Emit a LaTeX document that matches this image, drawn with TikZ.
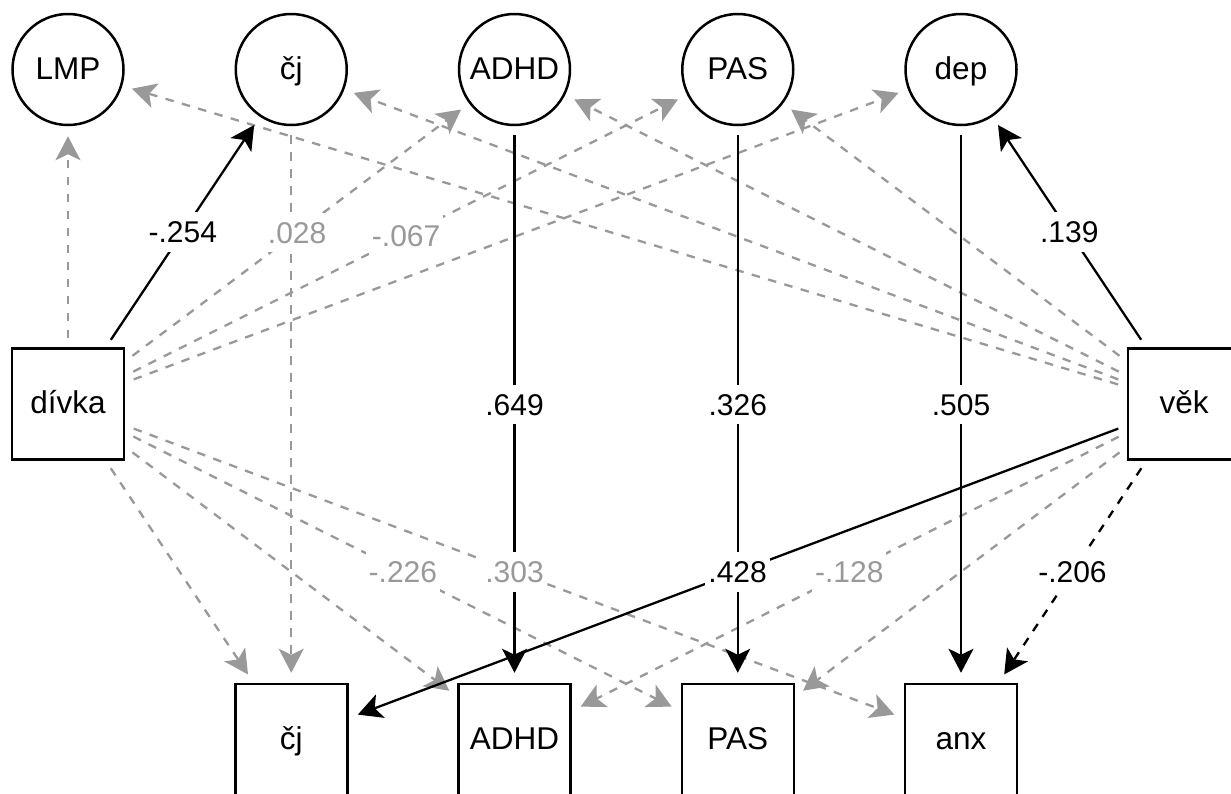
\documentclass[tikz,border=0pt]{standalone}
\usepackage{fontspec}
\setmainfont{Liberation Sans}
\usetikzlibrary{arrows.meta}
\definecolor{lg}{HTML}{999999}
\tikzset{
  nd/.style={draw=black, line width=2.5pt, font=\fontsize{31.5}{36}\selectfont, inner sep=0pt, text=black, text height=25pt, text depth=6pt},
  circ/.style={nd, circle, minimum size=111pt},
  box/.style={nd, rectangle, minimum width=112pt, minimum height=111pt},
  conn/.style={line width=2.3pt, shorten <=9pt, shorten >=10pt, -{Stealth[length=24pt,width=25pt,inset=6pt]}},
  blk/.style={conn, draw=black},
  gry/.style={conn, draw=lg, dash pattern=on 8.5pt off 8.5pt},
  bdash/.style={conn, draw=black, dash pattern=on 8.5pt off 8.5pt},
  lbl/.style={fill=white, inner xsep=3pt, inner ysep=9pt, text height=21.5pt, text depth=0pt, font=\fontsize{30}{36}\selectfont},
  lblk/.style={lbl, text=black},
  lgry/.style={lbl, text=lg},
}
\begin{document}
\begin{tikzpicture}[x=1pt, y=-1pt]
\clip (0,0) rectangle (1231,793);
\fill[white] (0,0) rectangle (1231,793);
% nodes
\node[circ] (LMP)   at (68,69.5)     {LMP};
\node[circ] (cjT)   at (291.25,69.5) {čj};
\node[circ] (adhdT) at (514.5,69.5)  {ADHD};
\node[circ] (pasT)  at (737.75,69.5) {PAS};
\node[circ] (depT)  at (961,69.5)    {dep};
\node[box] (divka)  at (68,404)      {dívka};
\node[box] (vek)    at (1184,404)    {věk};
\node[box] (cjB)    at (291.25,739.5){čj};
\node[box] (adhdB)  at (514.5,739.5) {ADHD};
\node[box] (pasB)   at (737.75,739.5){PAS};
\node[box] (anx)    at (961,739.5)   {anx};
% gray dashed connectors
\draw[gry] (divka) -- (LMP);
\draw[gry] (divka) -- (adhdT);
\draw[gry] (divka) -- (pasT);
\draw[gry] (divka) -- (depT);
\draw[gry] (divka) -- (cjB);
\draw[gry] (divka) -- (adhdB);
\draw[gry] (divka) -- (pasB);
\draw[gry] (divka) -- (anx);
\draw[gry] (cjT) -- (cjB);
\draw[gry] (vek) -- (LMP);
\draw[gry] (vek) -- (cjT);
\draw[gry] (vek) -- (adhdT);
\draw[gry] (vek) -- (pasT);
\draw[gry] (vek) -- (adhdB);
\draw[gry] (vek) -- (pasB);
% black connectors
\draw[blk] (divka) -- (cjT);
\draw[blk] (adhdT) -- (adhdB);
\draw[blk] (pasT) -- (pasB);
\draw[blk] (depT) -- (anx);
\draw[blk] (vek) -- (depT);
\draw[blk] (vek) -- (cjB);
\draw[bdash] (vek) -- (anx);
% labels
\path (divka) -- node[lblk] {-.254} (cjT);
\path (divka) -- node[lgry] {.028} (adhdT);
\path (divka) -- node[lgry] {-.067} (pasT);
\path (divka) -- node[lgry] {-.226} (pasB);
\path (divka) -- node[lgry] {.303} (anx);
\path (adhdT) -- node[lblk] {.649} (adhdB);
\path (pasT) -- node[lblk] {.326} (pasB);
\path (depT) -- node[lblk] {.505} (anx);
\path (vek) -- node[lblk] {.139} (depT);
\path (vek) -- node[lblk] {.428} (cjB);
\path (vek) -- node[lgry] {-.128} (adhdB);
\path (vek) -- node[lblk] {-.206} (anx);
\end{tikzpicture}
\end{document}
